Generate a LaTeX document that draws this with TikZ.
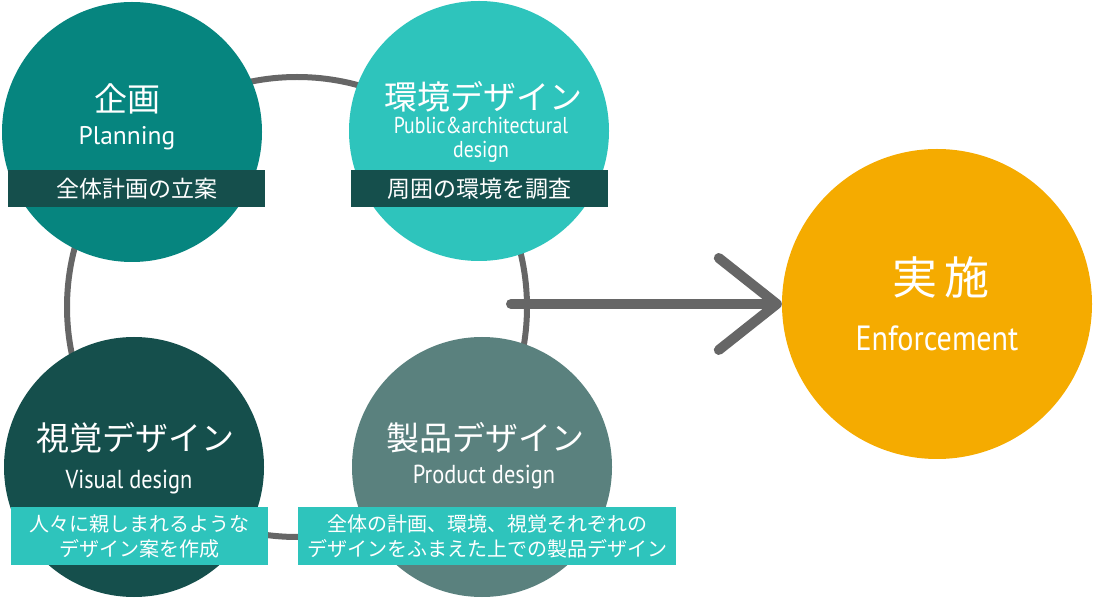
\documentclass[tikz,border=0pt]{standalone}
\usepackage{fontspec}
\setmainfont{Noto Sans CJK JP}
\newfontfamily\latinfont{PT Sans}
\newfontfamily\narrowfont[FakeStretch=0.86]{PT Sans}
\usetikzlibrary{arrows.meta}
\definecolor{PlanTeal}{HTML}{06857F}
\definecolor{EnvTurq}{HTML}{2EC4BC}
\definecolor{VisDark}{HTML}{154F4C}
\definecolor{ProdGray}{HTML}{5A817E}
\definecolor{EnfOrange}{HTML}{F5AB00}
\definecolor{RingGray}{HTML}{666666}
\tikzset{
  phase/.style={
    circle,
    minimum size=260pt,
    inner sep=0pt
  },
  cycleline/.style={
    circle,
    draw=RingGray,
    line width=6pt,
    minimum size=460pt,
    inner sep=0pt
  },
  title/.style={
    text=white,
    inner sep=0pt,
    font=\fontsize{33}{36}\selectfont
  },
  subtitle/.style={
    text=white,
    inner sep=0pt,
    align=center
  },
  band/.style={
    text=white,
    inner sep=0pt,
    align=center,
    text width=#1
  },
  arrowline/.style={
    draw=RingGray,
    line width=10pt,
    line cap=round,
    -{Straight Barb[length=58pt,width=92pt,round]}
  }
}
\begin{document}
\begin{tikzpicture}[x=1pt,y=1pt]
  \useasboundingbox (0,0) rectangle (1100,600);
  % ring behind the four phases
  \node[cycleline] (cycle) at (297,293) {};
  \coordinate (start) at (511,296);
  \node[phase,fill=EnfOrange,minimum size=310pt] (enf) at (937,296) {};
  \draw[arrowline] (start) -- (enf.west);

  % four phases
  \node[phase,fill=PlanTeal] (plan) at (132,468) {};
  \node[phase,fill=EnvTurq] (env) at (479,469) {};
  \node[phase,fill=VisDark] (vis) at (134,133) {};
  \node[phase,fill=ProdGray] (prod) at (482,133) {};

  % labels
  \node[title] (planT) at (127,501) {企画};
  \node[subtitle,font=\latinfont\fontsize{25.5}{27}\selectfont] (planE) at (127,462) {Planning};
  \node[fill=VisDark,minimum width=257pt,minimum height=37pt,band=257pt,
    font=\fontsize{23}{26}\selectfont] (planB) at (136.5,411.5) {全体計画の立案};

  \node[title] (envT) at (483,503) {環境デザイン};
  \node[subtitle,font=\narrowfont\fontsize{23}{24}\selectfont] (envE) at (481,460)
    {Public\&architectural\\design};
  \node[fill=VisDark,minimum width=257pt,minimum height=37pt,band=257pt,
    font=\fontsize{23}{26}\selectfont] (envB) at (479.5,411.5) {周囲の環境を調査};

  \node[title] (visT) at (135,162) {視覚デザイン};
  \node[subtitle,font=\narrowfont\fontsize{26}{27}\selectfont] (visE) at (129,118) {Visual design};
  \node[fill=EnvTurq,minimum width=257pt,minimum height=58pt,band=257pt,
    font=\fontsize{20}{25}\selectfont] (visB) at (139.5,64)
    {人々に親しまれるような\\デザイン案を作成};

  \node[title] (prodT) at (485,162) {製品デザイン};
  \node[subtitle,font=\narrowfont\fontsize{26}{27}\selectfont] (prodE) at (484,123) {Product design};
  \node[fill=EnvTurq,minimum width=378pt,minimum height=58pt,band=378pt,
    font=\fontsize{20}{25}\selectfont] (prodB) at (487,64)
    {全体の計画、環境、視覚それぞれの\\デザインをふまえた上での製品デザイン};

  \node[title,font=\fontsize{45}{48}\selectfont] (enfT) at (941,323) {実\kern8pt 施};
  \node[subtitle,font=\narrowfont\fontsize{35}{36}\selectfont] (enfE) at (937,262) {Enforcement};
\end{tikzpicture}
\end{document}
